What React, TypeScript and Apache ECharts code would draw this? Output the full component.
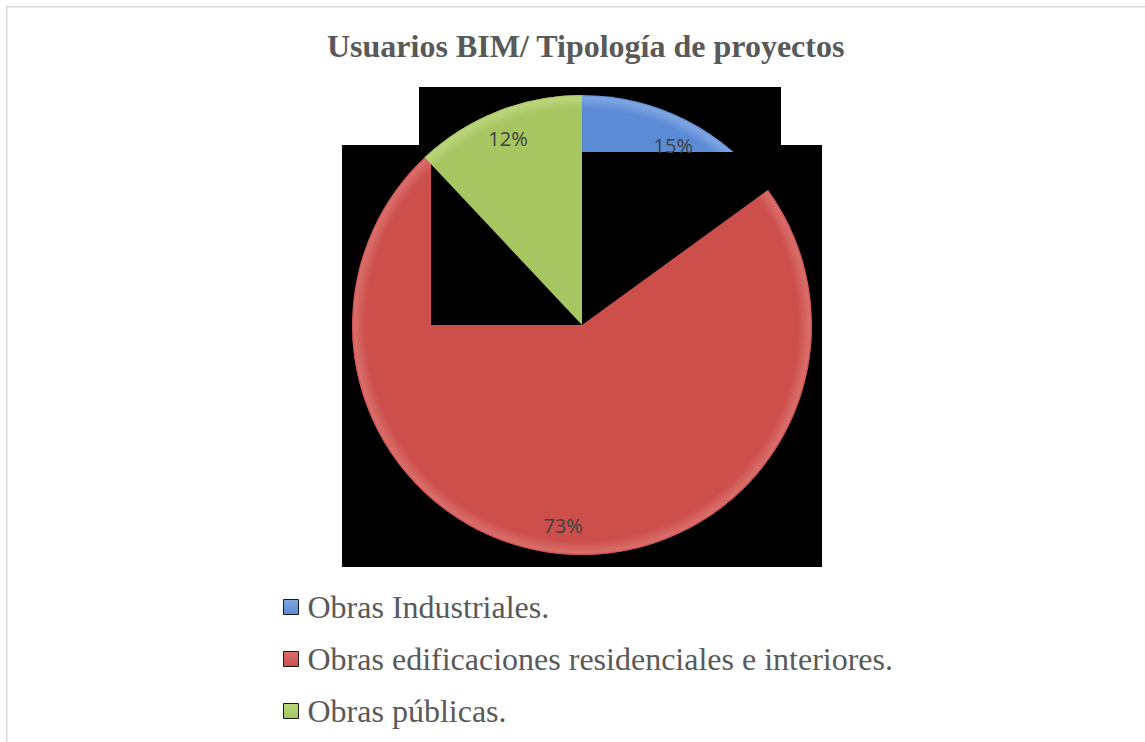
import React, { useEffect, useRef } from "react";
import * as echarts from "echarts";

const titleText = "Usuarios BIM/ Tipología de proyectos";
const categories = [
  "Obras Industriales.",
  "Obras edificaciones residenciales e interiores.",
  "Obras públicas.",
];
const values = [15, 73, 12];
const colors = ["#5b8bd5", "#cc4f4c", "#a6c661"];
const lightColors = ["#80a6e1", "#d96e6b", "#bad57d"];

function sliceFill(i: number) {
  return {
    type: "radial",
    x: 582,
    y: 325,
    r: 230,
    global: true,
    colorStops: [
      { offset: 0, color: colors[i] },
      { offset: 0.94, color: colors[i] },
      { offset: 0.99, color: lightColors[i] },
      { offset: 1, color: colors[i] },
    ],
  };
}

function iconFill(i: number) {
  return {
    type: "linear",
    x: 0,
    y: 0,
    x2: 0,
    y2: 1,
    colorStops: [
      { offset: 0, color: lightColors[i] },
      { offset: 1, color: colors[i] },
    ],
  };
}

export default function App() {
  const ref = useRef<HTMLDivElement>(null);
  useEffect(() => {
    document.body.style.margin = "0";
    const chart = echarts.init(ref.current!, null, { renderer: "svg" });
    const total = values.reduce((a, b) => a + b, 0);
    // scan artifact mask: portion of the red slice drawn up to 9 o'clock
    const redShown = total * 0.75 - values[0];
    const maskData = [
      { name: categories[0], value: values[0], itemStyle: { color: "transparent" } },
      { name: categories[1], value: redShown, itemStyle: { color: sliceFill(1) } },
      { name: categories[1], value: values[1] - redShown, itemStyle: { color: "transparent" } },
      { name: categories[2], value: values[2], itemStyle: { color: sliceFill(2) } },
    ];
    chart.setOption({
      animation: false,
      backgroundColor: "#ffffff",
      title: {
        text: titleText,
        left: 327,
        top: 30,
        padding: 0,
        textStyle: {
          fontFamily: "Liberation Serif",
          fontWeight: "bold",
          fontSize: 32,
          color: "#595959",
        },
      },
      legend: {
        orient: "vertical",
        left: 283,
        top: 591,
        padding: 0,
        itemWidth: 15,
        itemHeight: 15,
        itemGap: 20,
        icon: "rect",
        selectedMode: false,
        data: categories.map((c, i) => ({
          name: c,
          itemStyle: { color: iconFill(i), borderColor: "#1a1a1a", borderWidth: 1 },
        })),
        textStyle: {
          fontFamily: "Liberation Serif",
          fontSize: 32,
          color: "#595959",
          padding: [0, 0, 0, 4],
          lineHeight: 32,
        },
      },
      graphic: [
        { type: "line", z: 0, shape: { x1: 6, y1: 6.75, x2: 1145, y2: 6.75 }, style: { stroke: "#d9d9d9", lineWidth: 1.5 } },
        { type: "line", z: 0, shape: { x1: 6.75, y1: 6, x2: 6.75, y2: 742 }, style: { stroke: "#d9d9d9", lineWidth: 1.5 } },
        { type: "rect", z: 0, shape: { x: 419, y: 87, width: 362, height: 60 }, style: { fill: "#000" } },
        { type: "rect", z: 0, shape: { x: 342, y: 145, width: 480, height: 422 }, style: { fill: "#000" } },
        { type: "rect", z: 3, shape: { x: 431, y: 152, width: 391, height: 173 }, style: { fill: "#000" } },
      ],
      series: [
        {
          type: "pie",
          z: 2,
          center: [582, 325],
          radius: [0, 230],
          startAngle: 90,
          silent: true,
          label: { show: false },
          labelLine: { show: false },
          data: categories.map((c, i) => ({ name: c, value: values[i], itemStyle: { color: sliceFill(i) } })),
        },
        {
          type: "pie",
          z: 4,
          center: [582, 325],
          radius: [0, 230],
          startAngle: 90,
          silent: true,
          label: { show: false },
          labelLine: { show: false },
          data: maskData,
        },
        {
          type: "pie",
          z: 5,
          center: [582, 325],
          radius: [166, 230],
          startAngle: 90,
          silent: true,
          percentPrecision: 0,
          itemStyle: { color: "transparent" },
          label: {
            show: true,
            position: "inside",
            formatter: "{d}%",
            fontFamily: "Open Sans",
            fontSize: 20,
            color: "#404040",
          },
          labelLine: { show: false },
          data: categories.map((c, i) => ({ name: c, value: values[i] })),
        },
      ],
    });
    return () => chart.dispose();
  }, []);
  return <div ref={ref} style={{ width: 1145, height: 742 }} />;
}
